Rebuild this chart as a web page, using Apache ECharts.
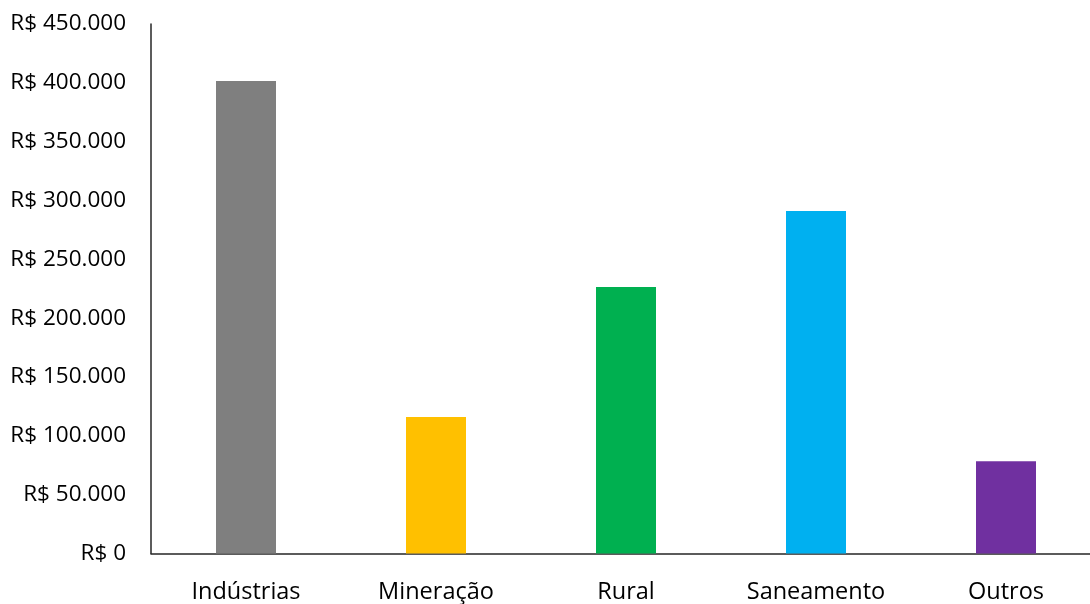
<!DOCTYPE html>
<html>
<head>
<meta charset="utf-8">
<script src="https://cdn.jsdelivr.net/npm/echarts@6/dist/echarts.min.js"></script>
<style>
  html, body { margin: 0; padding: 0; background: #fff; overflow: hidden; }
  /* the plot runs past the right edge in the original, so the chart is a bit wider than the window */
  #chart { width: 1101px; height: 604px; }
</style>
</head>
<body>
<div id="chart"></div>
<script>
const categories = ["Indústrias", "Mineração", "Rural", "Saneamento", "Outros"];
const values = [401500, 116000, 226500, 291000, 78500];
const barColors = ["#7f7f7f", "#ffc000", "#00b050", "#00b0f0", "#7030a0"];

// formato brasileiro: R$ 450.000
const fmtBRL = v => "R$ " + String(v).replace(/\B(?=(\d{3})+(?!\d))/g, ".");

const chart = echarts.init(document.getElementById("chart"));
chart.setOption({
  animation: false,
  grid: { left: 151, right: 0, top: 24, bottom: 50.5, outerBoundsMode: "none" },
  xAxis: {
    type: "category",
    data: categories,
    axisLine: { lineStyle: { color: "#262626", width: 1.5 } },
    axisTick: { show: false },
    axisLabel: {
      color: "#000",
      fontFamily: "Open Sans",
      fontSize: 23.5,
      margin: 27
    }
  },
  yAxis: {
    type: "value",
    min: 0,
    max: 450000,
    interval: 50000,
    splitLine: { show: false },
    axisLine: { show: true, lineStyle: { color: "#262626", width: 1.5 } },
    axisTick: { show: false },
    axisLabel: {
      color: "#000",
      fontFamily: "Open Sans",
      fontSize: 22.5,
      margin: 25,
      padding: [3, 0, 0, 0],
      formatter: fmtBRL
    }
  },
  series: [{
    type: "bar",
    barWidth: 60,
    data: values.map((v, i) => ({ value: v, itemStyle: { color: barColors[i] } }))
  }]
});
</script>
</body>
</html>
